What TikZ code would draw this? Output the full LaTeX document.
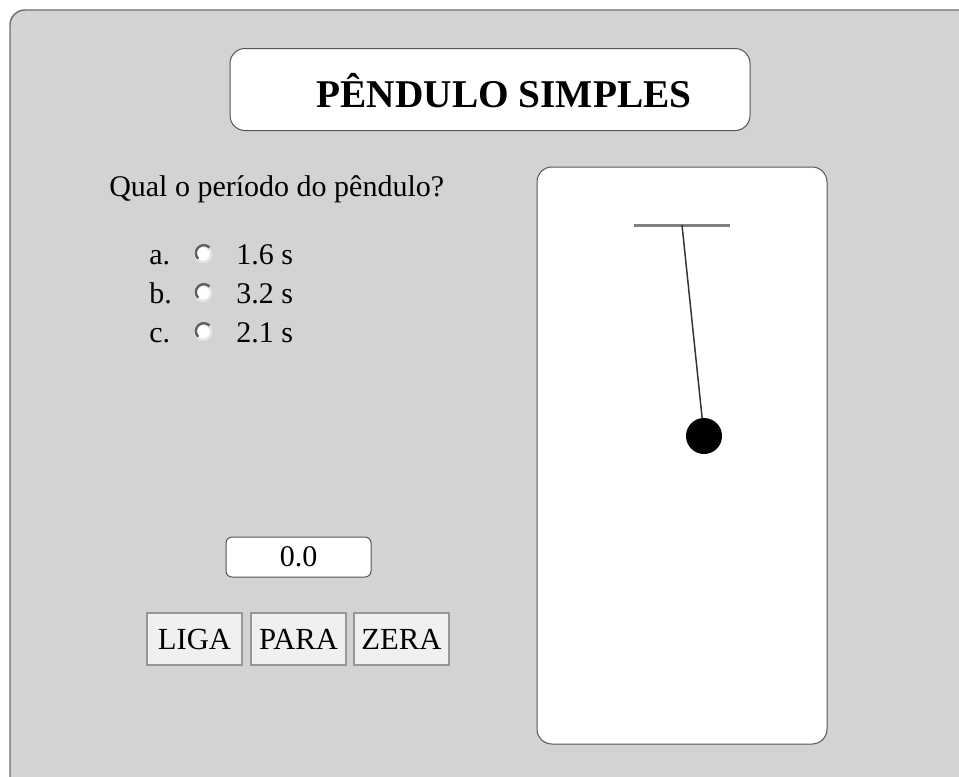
\documentclass[tikz,border=0pt]{standalone}
\usepackage{fontspec}
\setmainfont{Liberation Serif}
\usetikzlibrary{positioning}

\begin{document}
\begin{tikzpicture}[x=0.75pt,y=0.75pt,yscale=-1,xscale=1,
    caixa/.style={draw={rgb, 255:red, 85; green, 85; blue, 85}, fill=white, line width=0.75pt, rounded corners=11.25pt},
    botao/.style={draw={rgb, 255:red, 150; green, 150; blue, 150}, fill={rgb, 255:red, 240; green, 240; blue, 240}, line width=0.9pt, minimum width=71.25pt, minimum height=39pt, inner sep=0pt, font=\fontsize{23}{27}\selectfont},
    texto/.style={inner sep=0pt, anchor=base west, font=\fontsize{22.5}{27}\selectfont},
    radio/.style={circle, fill=white, draw={rgb, 255:red, 230; green, 230; blue, 225}, line width=1.8pt, minimum size=12pt, inner sep=0pt},
    radiosombra/.style={draw={rgb, 255:red, 95; green, 95; blue, 95}, line width=1.8pt}
]
    \useasboundingbox (0,0) rectangle (959,776);
    \clip (0,0) rectangle (959,776);
    \fill [white] (0,0) rectangle (959,776);

    %Shape: Rectangle [id:painel]
    \draw [fill={rgb, 255:red, 211; green, 211; blue, 211}, draw={rgb, 255:red, 110; green, 110; blue, 110}, line width=1.1pt, rounded corners=11.25pt] (10,10) rectangle (990,800);

    % Title
    \node [caixa, minimum width=390pt, minimum height=61.5pt] (titulo) at (490,89.5) {};
    \node [inner sep=0pt, font=\fontsize{29.5}{34}\selectfont\bfseries] (tituloTexto) at (504,91) {PÊNDULO SIMPLES};

    % Text Node
    \node [texto] (pergunta) at (109,196) {Qual o período do pêndulo?};

    % Options
    \node [texto] (letraA) at (149,264) {a.};
    \node [radio] (radioA) at (203,254) {};
    \node [texto] (valorA) at (236,264) {1.6 s};
    \node [texto] (letraB) at (149,303) {b.};
    \node [radio] (radioB) at (203,293) {};
    \node [texto] (valorB) at (236,303) {3.2 s};
    \node [texto] (letraC) at (149,342) {c.};
    \node [radio] (radioC) at (203,332) {};
    \node [texto] (valorC) at (236,342) {2.1 s};
    \draw [radiosombra] (radioA.45) arc [start angle=-45, end angle=-225, radius=8];
    \draw [radiosombra] (radioB.45) arc [start angle=-45, end angle=-225, radius=8];
    \draw [radiosombra] (radioC.45) arc [start angle=-45, end angle=-225, radius=8];

    % Counter
    \node [caixa, rounded corners=4.5pt, minimum width=108.75pt, minimum height=30pt, inner sep=0pt, font=\fontsize{22.5}{27}\selectfont] (contador) at (298.5,557) {0.0};

    % Buttons
    \node [botao] (liga) at (194.5,639) {LIGA};
    \node [botao] (para) at (298.5,639) {PARA};
    \node [botao] (zera) at (401.5,639) {ZERA};

    %Shape: Rectangle [id:quadro]
    \draw [caixa] (537,167) rectangle (827,744);

    % Pendulum
    \draw [line width=2.25pt, color={rgb, 255:red, 128; green, 128; blue, 128}] (634,225) -- (730,225);
    \coordinate (suporte) at (682,225);
    \node [circle, fill=black, minimum size=27pt, inner sep=0pt] (massa) at (704,436) {};
    \draw [line width=1.1pt, color={rgb, 255:red, 50; green, 50; blue, 50}] (suporte) -- (massa);

\end{tikzpicture}
\end{document}
